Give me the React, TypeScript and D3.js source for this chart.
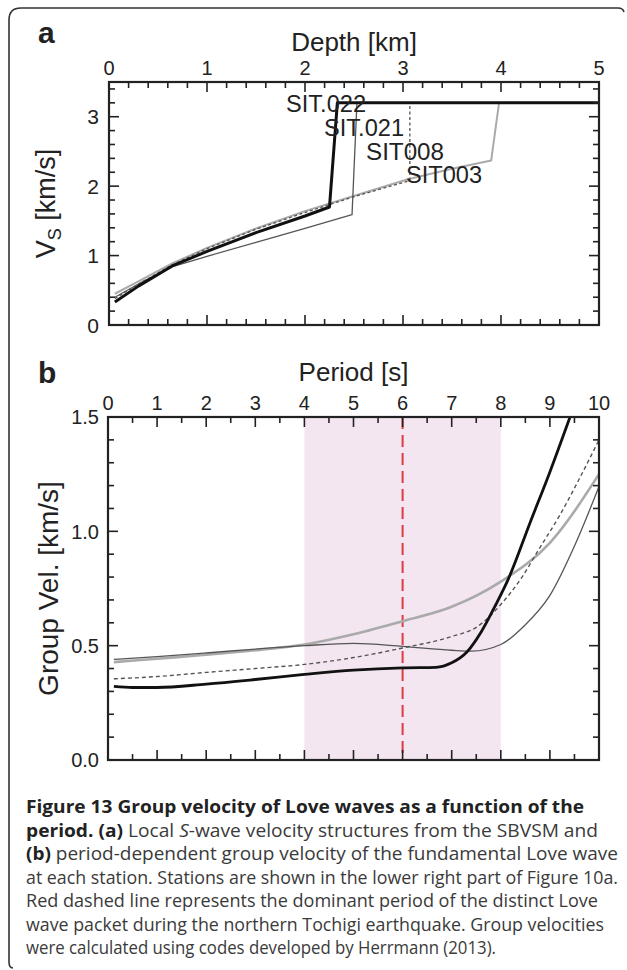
import React from "react";
import * as d3 from "d3";

// ---- panel a : S-wave velocity profiles  [depth km, Vs km/s]
const sit022 = [[0.06, 0.33], [0.3, 0.56], [0.645, 0.85], [1.0, 1.06], [1.5, 1.33], [2.0, 1.57], [2.25, 1.7], [2.33, 3.2], [5.0, 3.2]];
const sit021 = [[0.06, 0.4], [0.35, 0.63], [0.65, 0.84], [1.0, 0.99], [1.5, 1.19], [2.0, 1.39], [2.48, 1.59], [2.53, 3.2], [5.0, 3.2]];
const sit008 = [[0.06, 0.38], [0.3, 0.59], [0.65, 0.87], [1.0, 1.1], [1.5, 1.38], [2.0, 1.62], [2.48, 1.84], [3.07, 2.08], [3.07, 3.2], [5.0, 3.2]];
const sit003 = [[0.06, 0.45], [0.3, 0.63], [0.65, 0.89], [1.0, 1.11], [1.5, 1.39], [2.0, 1.64], [2.48, 1.85], [3.05, 2.1], [3.5, 2.25], [3.9, 2.37], [3.98, 3.2], [5.0, 3.2]];
const stationNames = ["SIT.022", "SIT.021", "SIT008", "SIT003"];

// ---- panel b : group velocity of fundamental Love wave  [period s, U km/s]
const gv022 = [[0.12, 0.322], [0.5, 0.317], [1, 0.317], [2, 0.332], [3, 0.352], [4, 0.374], [5, 0.393], [6, 0.403], [6.68, 0.405], [7.0, 0.425], [7.3, 0.47], [7.6, 0.56], [7.9, 0.68], [8.15, 0.79], [8.6, 1.04], [9.0, 1.26], [9.41, 1.5]];
const gv021 = [[0.12, 0.44], [1, 0.452], [2, 0.468], [3, 0.485], [4, 0.5], [5, 0.51], [6, 0.497], [7, 0.48], [7.4, 0.476], [8, 0.505], [8.47, 0.585], [9, 0.72], [9.53, 0.95], [10, 1.196]];
const gv008 = [[0.12, 0.355], [1, 0.365], [2, 0.383], [3, 0.4], [4, 0.418], [5, 0.448], [6, 0.49], [7, 0.54], [7.5, 0.58], [8, 0.68], [8.4, 0.79], [8.8, 0.93], [9.2, 1.07], [9.6, 1.23], [10, 1.4]];
const gv003 = [[0.12, 0.428], [1, 0.443], [2, 0.46], [3, 0.48], [4, 0.505], [5, 0.55], [6, 0.607], [7, 0.67], [8, 0.78], [9, 0.95], [10, 1.25]];
const bandPeriods = [4, 8];
const dominantPeriod = 6;

const depthTicks = [0, 1, 2, 3, 4, 5];
const vsTicks = [0, 1, 2, 3];
const periodTicks = [0, 1, 2, 3, 4, 5, 6, 7, 8, 9, 10];
const gvTicks = [0, 0.5, 1.0, 1.5];

const captionLines = [
  "Figure 13 Group velocity of Love waves as a function of the",
  "period. (a) Local S-wave velocity structures from the SBVSM and",
  "(b) period-dependent group velocity of the fundamental Love wave",
  "at each station. Stations are shown in the lower right part of Figure 10a.",
  "Red dashed line represents the dominant period of the distinct Love",
  "wave packet during the northern Tochigi earthquake. Group velocities",
  "were calculated using codes developed by Herrmann (2013).",
];

const W = 627;
const H = 970;
const FONT = "'Liberation Sans', Arial, Helvetica, sans-serif";
const CAP_FONT = "'Open Sans', 'Noto Sans', sans-serif";
const INK = "#222";

const xA = d3.scaleLinear().domain([0, 5]).range([109, 599]);
const yA = d3.scaleLinear().domain([0, 3.5]).range([325, 82]);
const xB = d3.scaleLinear().domain([0, 10]).range([108, 599]);
const yB = d3.scaleLinear().domain([0, 1.5]).range([760, 417]);

function Frame({ x, y, xMinor, yMinor, xMajor, yMajor }: any) {
  const [x0, x1] = x.range();
  const [y0, y1] = y.range();
  const isMaj = (v: number, arr: number[]) => arr.some((m) => Math.abs(m - v) < 1e-6);
  return (
    <g stroke={INK} strokeWidth={1.6}>
      {xMinor.map((v: number) => {
        const l = isMaj(v, xMajor) ? 10 : 6;
        return (
          <g key={"x" + v}>
            <line x1={x(v)} x2={x(v)} y1={y1} y2={y1 + l} />
            <line x1={x(v)} x2={x(v)} y1={y0} y2={y0 - l} />
          </g>
        );
      })}
      {yMinor.map((v: number) => {
        const l = isMaj(v, yMajor) ? 10 : 6;
        return (
          <g key={"y" + v}>
            <line x1={x0} x2={x0 + l} y1={y(v)} y2={y(v)} />
            <line x1={x1} x2={x1 - l} y1={y(v)} y2={y(v)} />
          </g>
        );
      })}
      <rect x={x0} y={y1} width={x1 - x0} height={y0 - y1} fill="none" strokeWidth={2.2} />
    </g>
  );
}

export default function App() {
  const lineA = d3.line<number[]>().x((d) => xA(d[0])).y((d) => yA(d[1]));
  const lineB = d3
    .line<number[]>()
    .x((d) => xB(d[0]))
    .y((d) => yB(d[1]))
    .curve(d3.curveMonotoneX);

  const stationLabels = [
    { x: 286, y: 112, w: 80 },
    { x: 324, y: 136, w: 80 },
    { x: 366, y: 160, w: 78 },
    { x: 406, y: 183, w: 76 },
  ];
  const capWidths = [558, 572, 592, 592, 572, 578, 470];
  const capY0 = 813;
  const capStep = 23.5;

  return (
    <div style={{ position: "absolute", left: 0, top: 0, background: "#fff" }}>
      <svg width={W} height={H} viewBox={`0 0 ${W} ${H}`} style={{ display: "block" }}>
        <rect width={W} height={H} fill="#fff" />
        {/* figure frame */}
        <path
          d="M13,968 Q9,968 9,962 L9,20 Q9,8 21,8 L618,8 Q623,8 624,12"
          fill="none"
          stroke="#333"
          strokeWidth={1.6}
        />

        {/* ---------- panel a ---------- */}
        <text x={38} y={43} fontFamily={FONT} fontWeight="bold" fontSize={30} fill={INK}>a</text>
        <text x={(xA(0) + xA(5)) / 2} y={51} textAnchor="middle" fontFamily={FONT} fontSize={26} fill={INK}>
          Depth [km]
        </text>
        {depthTicks.map((t) => (
          <text key={t} x={xA(t)} y={75} textAnchor="middle" fontFamily={FONT} fontSize={20} fill={INK}>
            {t}
          </text>
        ))}
        {vsTicks.map((t) => (
          <text key={t} x={99} y={yA(t)} dy="0.36em" textAnchor="end" fontFamily={FONT} fontSize={21} fill={INK}>
            {t}
          </text>
        ))}
        <text transform={`translate(55,${(yA(0) + yA(3.5)) / 2}) rotate(-90)`} textAnchor="middle" fontFamily={FONT} fontSize={27} fill={INK}>
          <tspan>V</tspan>
          <tspan fontSize={18} dy={6}>S</tspan>
          <tspan dy={-6}> [km/s]</tspan>
        </text>

        <g fill="none" strokeLinejoin="round">
          <path d={lineA(sit003 as any) || ""} stroke="#aaa" strokeWidth={2} />
          <path d={lineA(sit008 as any) || ""} stroke="#555" strokeWidth={1.3} strokeDasharray="3 2.5" />
          <path d={lineA(sit021 as any) || ""} stroke="#555" strokeWidth={1.3} />
          <path d={lineA(sit022 as any) || ""} stroke="#111" strokeWidth={3} />
        </g>
        <Frame
          x={xA}
          y={yA}
          xMinor={d3.range(0, 5.001, 0.2)}
          yMinor={d3.range(0, 3.501, 0.2)}
          xMajor={depthTicks}
          yMajor={vsTicks}
        />
        {stationNames.map((n, i) => (
          <text
            key={n}
            x={stationLabels[i].x}
            y={stationLabels[i].y}
            textLength={stationLabels[i].w}
            lengthAdjust="spacingAndGlyphs"
            fontFamily={FONT}
            fontSize={23}
            fill={INK}
          >
            {n}
          </text>
        ))}

        {/* ---------- panel b ---------- */}
        <text x={38} y={383} fontFamily={FONT} fontWeight="bold" fontSize={30} fill={INK}>b</text>
        <text x={(xB(0) + xB(10)) / 2} y={381} textAnchor="middle" fontFamily={FONT} fontSize={26} fill={INK}>
          Period [s]
        </text>
        <rect
          x={xB(bandPeriods[0])}
          y={yB(1.5)}
          width={xB(bandPeriods[1]) - xB(bandPeriods[0])}
          height={yB(0) - yB(1.5)}
          fill="#f3e6f1"
        />
        {periodTicks.map((t) => (
          <text key={t} x={xB(t)} y={410} textAnchor="middle" fontFamily={FONT} fontSize={20} fill={INK}>
            {t}
          </text>
        ))}
        {gvTicks.map((t) => (
          <text key={t} x={99} y={yB(t)} dy="0.36em" textAnchor="end" fontFamily={FONT} fontSize={20} fill={INK}>
            {d3.format(".1f")(t)}
          </text>
        ))}
        <text transform={`translate(58,${(yB(0) + yB(1.5)) / 2}) rotate(-90)`} textAnchor="middle" fontFamily={FONT} fontSize={28} fill={INK}>
          Group Vel. [km/s]
        </text>

        <line
          x1={xB(dominantPeriod)}
          x2={xB(dominantPeriod)}
          y1={yB(1.5)}
          y2={yB(0)}
          stroke="#dd3b3f"
          strokeWidth={2}
          strokeDasharray="12 6"
        />
        <defs>
          <clipPath id="clipB">
            <rect x={xB(0)} y={yB(1.5)} width={xB(10) - xB(0)} height={yB(0) - yB(1.5)} />
          </clipPath>
        </defs>
        <g fill="none" clipPath="url(#clipB)">
          <path d={lineB(gv003 as any) || ""} stroke="#aaa" strokeWidth={2.6} />
          <path d={lineB(gv008 as any) || ""} stroke="#555" strokeWidth={1.4} strokeDasharray="4 3" />
          <path d={lineB(gv021 as any) || ""} stroke="#555" strokeWidth={1.3} />
          <path d={lineB(gv022 as any) || ""} stroke="#111" strokeWidth={2.8} />
        </g>
        <Frame
          x={xB}
          y={yB}
          xMinor={d3.range(0, 10.001, 0.5)}
          yMinor={d3.range(0, 1.501, 0.1)}
          xMajor={periodTicks}
          yMajor={gvTicks}
        />

        {/* ---------- caption ---------- */}
        <g fontFamily={CAP_FONT} fontSize={18} fill="#3a3a3a">
          <text x={26} y={capY0} textLength={capWidths[0]} lengthAdjust="spacingAndGlyphs" fontWeight="bold" fill="#222">
            {captionLines[0]}
          </text>
          <text x={26} y={capY0 + capStep} textLength={capWidths[1]} lengthAdjust="spacingAndGlyphs">
            <tspan fontWeight="bold" fill="#222">period.</tspan> <tspan fontWeight="bold" fill="#222">(a)</tspan> Local{" "}
            <tspan fontStyle="italic">S</tspan>-wave velocity structures from the SBVSM and
          </text>
          <text x={26} y={capY0 + capStep * 2} textLength={capWidths[2]} lengthAdjust="spacingAndGlyphs">
            <tspan fontWeight="bold" fill="#222">(b)</tspan> period-dependent group velocity of the fundamental Love wave
          </text>
          {captionLines.slice(3).map((l, i) => (
            <text
              key={i}
              x={26}
              y={capY0 + capStep * (i + 3)}
              textLength={capWidths[i + 3]}
              lengthAdjust="spacingAndGlyphs"
            >
              {l}
            </text>
          ))}
        </g>
      </svg>
    </div>
  );
}
